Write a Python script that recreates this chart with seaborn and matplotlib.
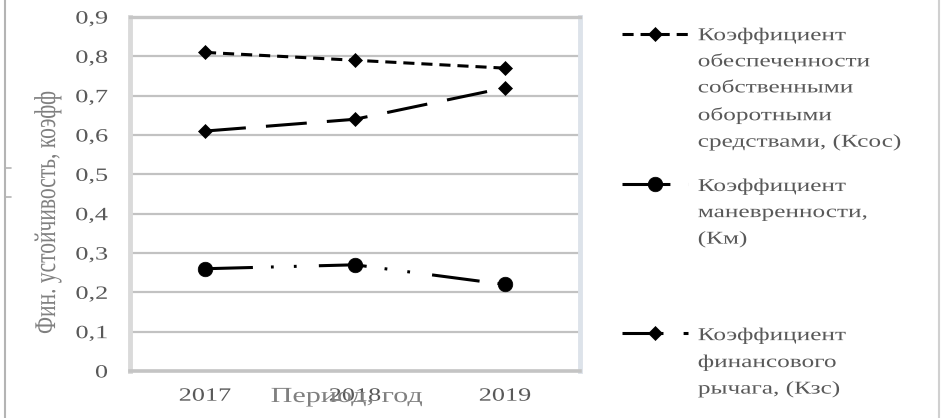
import matplotlib
matplotlib.use("Agg")
import matplotlib.pyplot as plt
import seaborn as sns
from matplotlib.lines import Line2D
from matplotlib.patheffects import AbstractPathEffect
from matplotlib.transforms import Affine2D

# ---- data -------------------------------------------------------------
years = ["2017", "2018", "2019"]
k_sos = [0.81, 0.79, 0.77]   # обеспеченность собственными оборотными средствами
k_m = [0.26, 0.27, 0.22]     # маневренность
k_zs = [0.61, 0.64, 0.72]    # финансовый рычаг

series_values = [k_sos, k_m, k_zs]
series_labels = [
    "Коэффициент\nобеспеченности\nсобственными\nоборотными\nсредствами, (Ксос)",
    "Коэффициент\nманевренности,\n(Км)",
    "Коэффициент\nфинансового\nрычага, (Кзс)",
]
y_ticks = [0, 0.1, 0.2, 0.3, 0.4, 0.5, 0.6, 0.7, 0.8, 0.9]
y_tick_labels = ["0", "0,1", "0,2", "0,3", "0,4", "0,5", "0,6", "0,7", "0,8", "0,9"]
x_title = "Период, год"
y_title = "Фин. устойчивость, коэфф"


class WideText(AbstractPathEffect):
    """Draw glyphs widened horizontally about the left/centre/right of the ink."""

    def __init__(self, sx=1.4, anchor="center"):
        super().__init__()
        self._sx = sx
        self._anchor = anchor

    def draw_path(self, renderer, gc, tpath, affine, rgbFace=None):
        ext = tpath.get_extents(affine)
        x0 = {"left": ext.x0, "center": 0.5 * (ext.x0 + ext.x1), "right": ext.x1}[self._anchor]
        widen = affine + Affine2D().translate(-x0, 0).scale(self._sx, 1.0).translate(x0, 0)
        renderer.draw_path(gc, tpath, widen, rgbFace)


sns.set_theme(style="white")
plt.rcParams["font.family"] = ["Liberation Serif", "DejaVu Serif"]
plt.rcParams["lines.scale_dashes"] = False

W, H = 944, 418
fig = plt.figure(figsize=(W / 100, H / 100), dpi=100)
ax = fig.add_axes([130 / W, 47 / H, 450 / W, 354 / H])

# line styles: dash patterns in points, marker shape and size
styles = [
    dict(linestyle=(0, (8, 5)), marker="D", markersize=7),
    dict(linestyle=(0, (34.5, 13, 2, 14.5, 2, 16)), marker="o", markersize=10.5),
    dict(linestyle=(0, (29.5, 14.5)), marker="D", markersize=7),
]

for vals, label, st in zip(series_values, series_labels, styles):
    sns.lineplot(x=years, y=vals, ax=ax, color="black", linewidth=2.2,
                 markeredgecolor="black", markeredgewidth=0.5,
                 label=label, **st)

if ax.get_legend() is not None:
    ax.get_legend().remove()

ax.set_xlim(-0.5, 2.5)
ax.set_ylim(0, 0.9)
ax.set_yticks(y_ticks, y_tick_labels)

ax.set_axisbelow(True)
ax.yaxis.grid(True, color="#c2c2c2", linewidth=1.6)
ax.xaxis.grid(False)

ax.tick_params(axis="y", length=0, pad=16, labelsize=13.5, labelcolor="#595959")
ax.tick_params(axis="x", length=0, pad=12, labelsize=13.5, labelcolor="#595959")

for name, color, lw in [("left", "#dadada", 3.5), ("right", "#dde3ea", 3.5),
                        ("top", "#c6c6c6", 2.4), ("bottom", "#c4c4c4", 2.6)]:
    ax.spines[name].set_visible(True)
    ax.spines[name].set_color(color)
    ax.spines[name].set_linewidth(lw)

ax.set_xlabel(x_title, fontsize=15.5, color="#808080")
ax.set_ylabel(y_title, fontsize=15.5, color="#808080")
ax.xaxis.set_label_coords(0.482, -0.048)
ax.yaxis.set_label_coords(-0.16, 0.449)

# legend on the right, handles aligned with the first line of each label
handles, labels = ax.get_legend_handles_labels()
legend_labels = [labels[0], labels[1] + "\n\n", labels[2]]
fs_leg = 13
leg = fig.legend(handles, legend_labels, loc="upper left",
                 bbox_to_anchor=(622 / W, 1 - 26.7 / H),
                 frameon=False, borderpad=0, borderaxespad=0,
                 fontsize=fs_leg, handlelength=66 / (fs_leg * 100 / 72),
                 handletextpad=10 / (fs_leg * 100 / 72), handleheight=0.9,
                 labelspacing=1.48, labelcolor="#595959")
for column in leg._legend_handle_box.get_children():
    for row in column.get_children():
        row.align = "top"

wide = 1.4
for t in leg.get_texts():
    t.set_linespacing(1.7)
    t.set_path_effects([WideText(wide, "left")])
for t in ax.get_yticklabels():
    t.set_path_effects([WideText(wide, "right")])
for t in ax.get_xticklabels():
    t.set_path_effects([WideText(wide, "center")])
ax.xaxis.label.set_path_effects([WideText(wide, "center")])
ax.yaxis.label.set_path_effects([WideText(wide, "center")])

# page borders at the sides of the chart
fig.add_artist(Line2D([5 / W, 5 / W], [0, 1], transform=fig.transFigure,
                      color="#b4b4b4", linewidth=1.5))
for yy in (168, 197):
    fig.add_artist(Line2D([5 / W, 11 / W], [1 - yy / H, 1 - yy / H],
                          transform=fig.transFigure, color="#b4b4b4", linewidth=1.2))
fig.add_artist(Line2D([939 / W, 939 / W], [0, 1], transform=fig.transFigure,
                      color="#d0d0d0", linewidth=1.5))

fig.savefig("out.png", dpi=100)
